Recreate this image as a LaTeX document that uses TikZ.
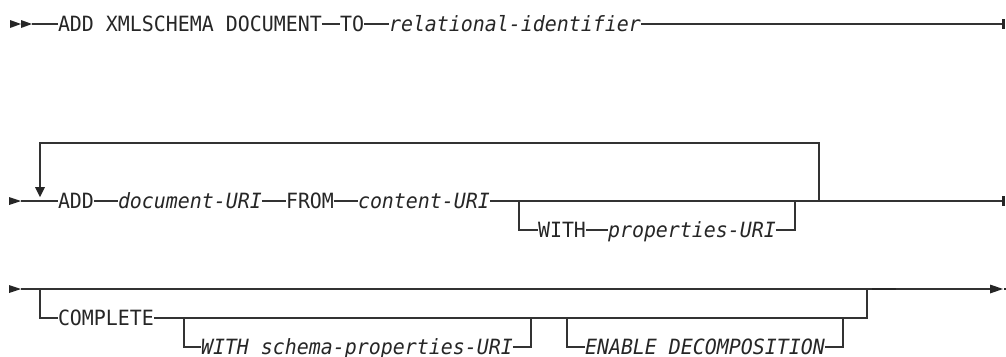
\documentclass[tikz,border=0pt]{standalone}
\usepackage{fontspec}
\newfontfamily\dfont[FakeStretch=0.949]{DejaVu Sans Mono}
\begin{document}
\begin{tikzpicture}[x=1pt,y=-1pt,
  ln/.style={line width=1.2pt, draw=black!80},
  kw/.style={anchor=west, inner sep=0pt, outer sep=0pt, text height=15.3pt, text depth=0pt, font=\dfont\fontsize{21}{21}\selectfont, text=black!85},
  var/.style={kw, font=\dfont\itshape\fontsize{21}{21}\selectfont},
  tri/.style={fill=black!85, draw=none}]
\useasboundingbox (0,0) rectangle (1006,356);
% ---------- row 1
\fill[tri] (10,20) -- (21,24) -- (10,28) -- cycle;
\fill[tri] (21,20) -- (32,24) -- (21,28) -- cycle;
\coordinate (r1s) at (32,24);
\node[kw] (r1a) at (58,24) {ADD XMLSCHEMA DOCUMENT};
\node[kw] (r1b) at (340,24) {TO};
\node[var] (r1c) at (389,24) {relational-identifier};
\coordinate (r1e) at (1002,24);
\draw[ln] (r1s) -- (r1a.west) (r1a.east) -- (r1b.west) (r1b.east) -- (r1c.west) (r1c.east) -- (r1e);
\fill[tri] (1002,19) rectangle (1005,29);
% ---------- row 2
\fill[tri] (9,197) -- (21,201) -- (9,205) -- cycle;
\coordinate (r2s) at (21,201);
\node[kw] (r2a) at (58,201) {ADD};
\node[var] (r2b) at (118,201) {document-URI};
\node[kw] (r2c) at (286,201) {FROM};
\node[var] (r2d) at (358,201) {content-URI};
\coordinate (r2j1) at (519,201);
\coordinate (r2j2) at (795,201);
\coordinate (r2j3) at (819,201);
\coordinate (r2e) at (1002,201);
\coordinate (loopT) at (40,187);
\draw[ln] (r2s) -- (r2a.west) (r2a.east) -- (r2b.west) (r2b.east) -- (r2c.west) (r2c.east) -- (r2d.west) (r2d.east) -- (r2e);
\draw[ln] (r2j3) -- (819,143) -- (40,143) -- (loopT);
\fill[tri] (35,187) -- (45,187) -- (40,197) -- cycle;
\fill[tri] (1002,196) rectangle (1005,206);
\node[kw] (r2w) at (538,230) {WITH};
\node[var] (r2p) at (608,230) {properties-URI};
\draw[ln] (r2j1) |- (r2w.west) (r2w.east) -- (r2p.west) (r2p.east) -| (r2j2);
% ---------- row 3
\fill[tri] (9,285) -- (21,289) -- (9,293) -- cycle;
\coordinate (r3s) at (21,289);
\coordinate (r3j0) at (40,289);
\coordinate (r3j9) at (867,289);
\coordinate (r3e) at (991,289);
\draw[ln] (r3s) -- (r3e);
\fill[tri] (990,284.5) -- (1003,289) -- (990,293.5) -- cycle;
\fill[tri] (1004,287.8) rectangle (1006,290.2);
\draw[line width=2pt, draw=black!85] (872,289) -- (896,289);
\node[kw] (r3c) at (58,318) {COMPLETE};
\draw[ln] (r3j0) |- (r3c.west) (r3c.east) -| (r3j9);
\coordinate (r3k1) at (184,318);
\coordinate (r3k2) at (531,318);
\coordinate (r3k3) at (567,318);
\coordinate (r3k4) at (843,318);
\node[var] (r3w) at (201,347) {WITH schema-properties-URI};
\node[var] (r3en) at (585,347) {ENABLE DECOMPOSITION};
\draw[ln] (r3k1) |- (r3w.west) (r3w.east) -| (r3k2);
\draw[ln] (r3k3) |- (r3en.west) (r3en.east) -| (r3k4);
\end{tikzpicture}
\end{document}
